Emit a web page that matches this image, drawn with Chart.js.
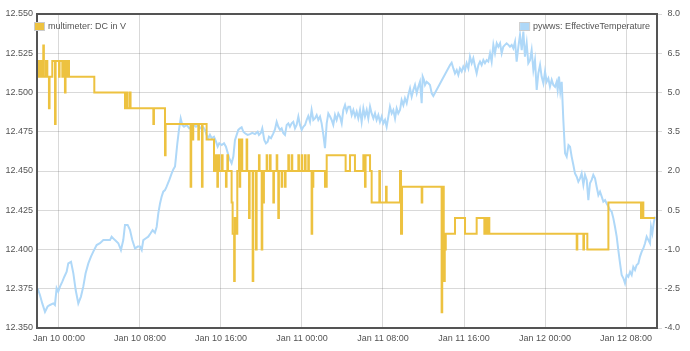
<!DOCTYPE html>
<html>
<head>
<meta charset="utf-8">
<script src="https://cdn.jsdelivr.net/npm/chart.js@4.4.1/dist/chart.umd.min.js"></script>
<style>
  html, body { margin: 0; padding: 0; background: #fff; }
  #wrap { width: 690px; height: 351px; }
</style>
</head>
<body>
<div id="wrap"><canvas id="chart" width="690" height="351"></canvas></div>
<script>
// time axis: hours counted from Jan 10 00:00
const xTickHours  = [0, 8, 16, 24, 32, 40, 48, 56];
const xTickLabels = ['Jan 10 00:00', 'Jan 10 08:00', 'Jan 10 16:00', 'Jan 11 00:00',
                     'Jan 11 08:00', 'Jan 11 16:00', 'Jan 12 00:00', 'Jan 12 08:00'];
const voltTicks = [12.35, 12.375, 12.4, 12.425, 12.45, 12.475, 12.5, 12.525, 12.55];
const tempTicks = [-4, -2.5, -1, 0.5, 2, 3.5, 5, 6.5, 8];

// multimeter: DC in V (value holds from each time until the next one)
const voltTimes = [
  -2.11, -1.98, -1.88, -1.74, -1.65, -1.55, -1.49, -1.28, -1.15, -0.99,
  -0.93, -0.66, -0.39, -0.33, 0.00, 0.06, 0.33, 0.39, 0.59, 0.65,
  0.82, 0.88, 0.99, 3.49, 6.52, 6.72, 6.78, 7.01, 7.07, 9.32,
  9.38, 10.47, 10.53, 13.00, 13.06, 13.20, 13.26, 13.76, 13.82, 14.12,
  14.18, 14.58, 15.31, 15.51, 15.57, 15.64, 15.70, 15.77, 15.83, 16.10,
  16.16, 16.49, 16.55, 16.63, 16.69, 17.05, 17.15, 17.30, 17.36, 17.55,
  17.61, 17.78, 17.84, 17.90, 18.04, 18.10, 18.53, 18.59, 18.77, 18.83,
  19.13, 19.19, 19.46, 19.52, 19.75, 19.81, 20.02, 20.08, 20.18, 20.24,
  20.51, 20.57, 20.84, 20.90, 21.17, 21.23, 21.50, 21.56, 21.66, 21.72,
  21.99, 22.05, 22.32, 22.38, 22.65, 22.71, 22.98, 23.04, 23.64, 23.70,
  23.97, 24.03, 24.30, 24.36, 24.62, 24.68, 24.95, 25.01, 25.12, 26.27,
  26.44, 28.31, 28.74, 29.23, 30.06, 30.22, 30.28, 30.72, 30.88, 31.64,
  31.70, 32.30, 32.36, 33.68, 33.78, 33.88, 35.82, 35.88, 37.79, 37.85,
  38.00, 38.10, 38.20, 39.11, 40.10, 41.25, 42.01, 42.14, 42.27, 42.40,
  42.50, 51.13, 51.19, 51.79, 51.85, 52.18, 54.26, 57.48, 57.65, 57.71,
  58.86
];
const voltValues = [
  12.51, 12.52, 12.51, 12.52, 12.51, 12.53, 12.51, 12.52, 12.51, 12.49,
  12.51, 12.52, 12.48, 12.52, 12.51, 12.52, 12.51, 12.52, 12.50, 12.52,
  12.51, 12.52, 12.51, 12.50, 12.49, 12.50, 12.49, 12.50, 12.49, 12.48,
  12.49, 12.46, 12.48, 12.44, 12.48, 12.47, 12.48, 12.47, 12.48, 12.44,
  12.48, 12.47, 12.45, 12.46, 12.45, 12.44, 12.45, 12.46, 12.45, 12.46,
  12.45, 12.44, 12.45, 12.46, 12.45, 12.43, 12.41, 12.38, 12.42, 12.41,
  12.45, 12.47, 12.44, 12.45, 12.47, 12.45, 12.47, 12.45, 12.42, 12.45,
  12.38, 12.45, 12.40, 12.45, 12.46, 12.45, 12.40, 12.45, 12.43, 12.45,
  12.46, 12.45, 12.46, 12.45, 12.43, 12.45, 12.46, 12.45, 12.42, 12.45,
  12.44, 12.45, 12.44, 12.45, 12.46, 12.45, 12.46, 12.45, 12.46, 12.45,
  12.46, 12.45, 12.46, 12.45, 12.46, 12.45, 12.41, 12.44, 12.45, 12.44,
  12.46, 12.45, 12.46, 12.45, 12.46, 12.44, 12.46, 12.45, 12.43, 12.45,
  12.43, 12.44, 12.43, 12.45, 12.41, 12.44, 12.43, 12.44, 12.36, 12.44,
  12.38, 12.40, 12.41, 12.42, 12.41, 12.42, 12.41, 12.42, 12.41, 12.42,
  12.41, 12.40, 12.41, 12.40, 12.41, 12.40, 12.43, 12.42, 12.43, 12.42,
  12.42
];

// pywws: EffectiveTemperature
const tempTimes = [
  -2.11, -1.88, -1.65, -1.38, -1.12, -0.89, -0.56, -0.40, -0.23, -0.07, 0.10, 0.33, 0.53, 0.76,
  0.92, 1.19, 1.42, 1.65, 1.91, 2.17, 2.40, 2.63, 2.90, 3.16, 3.39, 3.72, 4.05, 4.38, 4.71,
  5.04, 5.20, 5.53, 5.86, 6.12, 6.35, 6.52, 6.78, 7.01, 7.24, 7.51, 7.77,
  8.00, 8.17, 8.33, 8.59, 8.82, 9.05, 9.25, 9.48, 9.65, 9.81, 9.98, 10.14, 10.30, 10.47, 10.63,
  10.90, 11.13, 11.29, 11.46, 11.56, 11.69, 11.85, 12.02, 12.18, 12.35, 12.61, 12.87, 13.10,
  13.33, 13.53, 13.76, 13.93, 14.09, 14.26, 14.42, 14.58, 14.75, 14.91, 15.08, 15.31, 15.51,
  15.67, 15.83, 16.07, 16.30, 16.49, 16.63, 16.82, 17.05, 17.22, 17.38, 17.55, 17.71, 17.88,
  18.04, 18.21,
  18.37, 18.63, 18.86, 19.09, 19.36, 19.62, 19.75, 19.95, 20.08, 20.28, 20.44, 20.61, 20.74,
  20.94, 21.17, 21.33, 21.50, 21.66, 21.83, 21.99, 22.16, 22.32, 22.49, 22.65, 22.81, 22.98,
  23.14, 23.31, 23.47, 23.64, 23.80, 23.97, 24.13, 24.30, 24.46, 24.62, 24.79, 24.95, 25.12,
  25.28, 25.45, 25.61, 25.78, 25.94, 26.11, 26.27, 26.44, 26.60, 26.77, 26.93, 27.09, 27.26,
  27.42, 27.59, 27.75, 27.92, 28.08, 28.25, 28.41, 28.58,
  28.74, 28.91, 29.07, 29.24, 29.40, 29.56, 29.73, 29.89, 30.06, 30.22, 30.39, 30.55, 30.72,
  30.88, 31.05, 31.21, 31.37, 31.54, 31.70, 31.87, 32.03, 32.20, 32.36, 32.53, 32.69, 32.86,
  33.02, 33.19, 33.35, 33.51, 33.68, 33.84, 34.01, 34.17, 34.34, 34.50, 34.67, 34.83, 35.00,
  35.16, 35.33, 35.49, 35.65, 35.82, 35.92, 36.05, 36.15, 36.31, 36.48, 36.64, 36.81, 36.97,
  38.62, 38.78, 38.95,
  39.11, 39.28, 39.44, 39.60, 39.77, 39.93, 40.10, 40.26, 40.43, 40.59, 40.76, 40.92, 41.09,
  41.25, 41.42, 41.58, 41.74, 41.91, 42.07, 42.24, 42.40, 42.57, 42.73, 42.90, 43.06, 43.23,
  43.39, 43.56, 43.72, 43.88, 44.05, 44.21, 44.38, 44.54, 44.71, 44.87, 45.04, 45.20, 45.37,
  45.53, 45.70, 45.86, 46.02, 46.19, 46.35, 46.52, 46.68, 46.85, 47.01, 47.18, 47.34, 47.51,
  47.67, 47.84, 48.00, 48.16, 48.33, 48.49, 48.66, 48.82,
  48.99, 49.15, 49.25, 49.38, 49.51, 49.65, 49.81, 49.98, 50.14, 50.32, 50.47, 50.63, 50.80,
  50.96, 51.13, 51.29, 51.46, 51.62, 51.79, 51.95, 52.12, 52.28, 52.44, 52.61, 52.77, 52.94,
  53.10, 53.27, 53.43, 53.60, 53.76, 53.93, 54.09, 54.26, 54.42, 54.58, 54.75, 54.91, 55.08,
  55.24, 55.41, 55.57, 55.74, 55.90, 56.07, 56.23, 56.40, 56.56, 56.72, 56.89, 57.05, 57.22,
  57.38, 57.55, 57.71, 57.88, 58.04, 58.21, 58.37, 58.47, 58.60, 58.73, 58.86
];
const tempValues = [
  -2.48, -2.74, -3.06, -3.38, -3.18, -3.12, -3.06, -3.12, -2.48, -2.61, -2.42, -2.23, -2.04, -1.85,
  -1.53, -1.47, -1.91, -2.55, -3.06, -2.80, -2.42, -1.91, -1.53, -1.27, -1.08, -0.83, -0.76, -0.64, -0.64,
  -0.64, -0.51, -0.64, -0.76, -1.02, -0.64, -0.06, -0.06, -0.25, -0.64, -0.96, -0.89,
  -0.89, -1.02, -0.64, -0.57, -0.51, -0.38, -0.26, -0.36, -0.13, 0.38, 0.76, 1.02, 1.21, 1.27, 1.40,
  1.66, 1.91, 2.06, 2.17, 2.55, 3.06, 3.57, 4.01, 3.76, 3.69, 3.76, 3.63, 3.69,
  3.76, 3.69, 3.76, 3.63, 3.69, 3.67, 3.57, 3.38, 3.25, 3.38, 3.25, 3.31, 3.12,
  2.93, 3.06, 2.99, 3.06, 2.93, 2.74, 2.48, 2.29, 2.55, 3.18, 3.38, 3.57, 3.63,
  3.67, 3.50,
  3.44, 3.38, 3.41, 3.46, 3.41, 3.50, 3.38, 3.46, 3.63, 3.18, 3.06, 3.12, 3.31,
  3.25, 3.44, 3.59, 3.88, 3.69, 3.57, 3.63, 3.44, 3.38, 3.76, 3.82, 3.69, 3.82,
  3.88, 3.63, 3.76, 4.08, 3.76, 3.57, 3.69, 3.76, 3.95, 4.10, 3.88, 4.33, 3.95,
  4.01, 4.14, 3.95, 4.08, 3.82, 3.38, 2.87, 3.82, 4.20, 4.08, 3.95, 3.76, 4.14,
  3.95, 4.20, 4.08, 3.82, 4.33, 4.52, 4.27, 4.46,
  4.46, 4.14, 4.33, 4.08, 4.27, 4.01, 4.33, 3.88, 4.39, 4.08, 4.33, 4.01, 4.46,
  4.20, 4.01, 4.20, 3.95, 4.14, 3.88, 4.08, 3.82, 3.95, 3.69, 4.08, 4.46, 4.20,
  4.33, 4.01, 4.39, 4.20, 4.33, 4.71, 4.52, 4.78, 4.59, 4.90, 5.16, 4.84, 5.10,
  5.29, 4.97, 5.22, 5.41, 4.59, 5.61, 5.48, 5.29, 5.41, 5.35, 5.29, 4.97, 4.87,
  6.05, 6.14, 5.92,
  5.73, 5.86, 5.67, 5.92, 5.80, 5.99, 5.86, 6.12, 5.92, 6.37, 6.12, 6.31, 5.99,
  5.73, 6.05, 6.18, 6.05, 6.24, 6.12, 6.24, 6.18, 6.50, 6.18, 6.82, 6.50, 6.88,
  6.75, 6.88, 6.50, 6.75, 6.82, 6.88, 6.82, 6.75, 6.82, 6.69, 6.94, 6.18, 6.75,
  7.20, 6.62, 7.33, 6.37, 6.88, 6.12, 6.24, 6.62, 5.86, 6.24, 5.10, 5.73, 6.05,
  5.60, 5.35, 5.80, 5.41, 5.54, 5.22, 5.48, 5.29,
  5.22, 5.41, 5.10, 5.61, 5.03, 5.41, 3.95, 2.68, 2.55, 2.99, 2.93, 2.55, 2.23,
  1.91, 1.78, 1.59, 1.72, 1.91, 1.47, 1.85, 1.66, 0.89, 1.53, 1.66, 1.85, 1.72,
  1.40, 1.08, 1.21, 1.02, 0.83, 0.89, 0.76, 0.64, 0.51, 0.45, 0.19, -0.13, -0.51,
  -1.02, -1.53, -1.97, -2.10, -2.29, -1.97, -2.04, -1.85, -1.97, -1.66, -1.78, -1.59, -1.53,
  -1.27, -1.08, -0.96, -0.76, -0.51, -0.64, -0.76, -0.13, -0.38, 0.00, 0.25
];

const TEXT = '#545454';
const GRID = 'rgba(84,84,84,0.22)';

Chart.defaults.font.family = '"Liberation Sans", Arial, sans-serif';
Chart.defaults.font.size = 9;
Chart.defaults.color = TEXT;

const toPoints = (xs, ys) => xs.map((x, i) => ({ x, y: ys[i] }));
const setTicks = list => scale => { scale.ticks = list.map(value => ({ value })); };

// plot frame + the two corner legends
const frameAndLegend = {
  id: 'frameAndLegend',
  afterDatasetsDraw(chart) {
    const { ctx, chartArea: a } = chart;
    ctx.save();
    ctx.strokeStyle = TEXT;
    ctx.lineWidth = 2;
    ctx.strokeRect(a.left, a.top, a.right - a.left, a.bottom - a.top);

    ctx.font = '9px "Liberation Sans", Arial, sans-serif';
    ctx.textBaseline = 'middle';
    ctx.fillStyle = TEXT;
    const ds = chart.data.datasets;

    const drawBox = (x, color) => {
      ctx.strokeStyle = '#ccc';
      ctx.lineWidth = 1;
      ctx.strokeRect(x + 0.5, 22.5, 10, 8);
      ctx.fillStyle = color;
      ctx.fillRect(x + 1, 23, 9, 7);
      ctx.fillStyle = TEXT;
    };

    drawBox(34, ds[0].borderColor);
    ctx.fillText(ds[0].label, 48, 26.5);

    const w = ctx.measureText(ds[1].label).width;
    const tx = 650 - w;
    drawBox(tx - 14, ds[1].borderColor);
    ctx.fillText(ds[1].label, tx, 26.5);
    ctx.restore();
  }
};

new Chart(document.getElementById('chart'), {
  type: 'line',
  data: {
    datasets: [{
      label: 'multimeter: DC in V',
      data: toPoints(voltTimes, voltValues),
      yAxisID: 'yV',
      borderColor: '#edc240',
      borderWidth: 2,
      pointRadius: 0,
      stepped: true,
      fill: false,
    }, {
      label: 'pywws: EffectiveTemperature',
      data: toPoints(tempTimes, tempValues),
      yAxisID: 'yT',
      borderColor: '#afd8f8',
      borderWidth: 2,
      pointRadius: 0,
      tension: 0,
      fill: false,
    }]
  },
  options: {
    responsive: false,
    animation: false,
    devicePixelRatio: 1,
    layout: { padding: { top: 14, right: 10, left: 0, bottom: 0 } },
    plugins: { legend: { display: false }, tooltip: { enabled: false } },
    scales: {
      x: {
        type: 'linear',
        min: -2.17,
        max: 59.06,
        afterBuildTicks: setTicks(xTickHours),
        afterFit: s => { s.height = 23; },
        ticks: {
          autoSkip: false,
          maxRotation: 0,
          padding: 5,
          callback: v => xTickLabels[xTickHours.indexOf(v)]
        },
        grid: { color: GRID, drawTicks: false },
        border: { display: false }
      },
      yV: {
        position: 'left',
        min: 12.35,
        max: 12.55,
        afterBuildTicks: setTicks(voltTicks),
        afterFit: s => { s.width = 37; },
        ticks: { padding: 4, callback: v => v.toFixed(3) },
        grid: { color: GRID, drawTicks: false },
        border: { display: false }
      },
      yT: {
        position: 'right',
        min: -4,
        max: 8,
        afterBuildTicks: setTicks(tempTicks),
        afterFit: s => { s.width = 23; },
        ticks: { crossAlign: 'far', callback: v => v.toFixed(1) },
        grid: { drawOnChartArea: false, color: GRID, tickLength: 5 },
        border: { display: false }
      }
    }
  },
  plugins: [frameAndLegend]
});
</script>
</body>
</html>
